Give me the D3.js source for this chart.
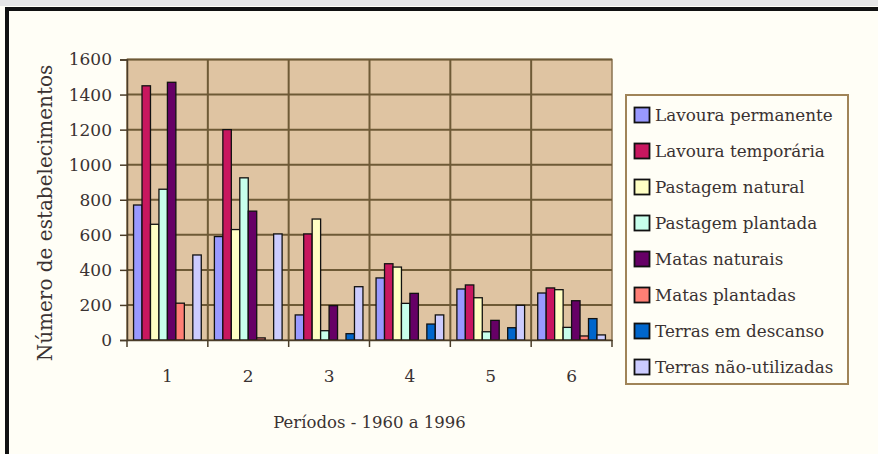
<!DOCTYPE html>
<html>
<head>
<meta charset="utf-8">
<script src="https://cdn.jsdelivr.net/npm/d3@7"></script>
<style>
	body { margin: 0; background: #fffef6; }
	text { font-family: "DejaVu Serif", serif; fill: #3a3232; }
</style>
</head>
<body>
<svg id="chart" width="878" height="454"></svg>
<script>
// categories (periods) and series
const periods = ["1", "2", "3", "4", "5", "6"];
const seriesNames = [
	"Lavoura permanente",
	"Lavoura temporária",
	"Pastagem natural",
	"Pastagem plantada",
	"Matas naturais",
	"Matas plantadas",
	"Terras em descanso",
	"Terras não-utilizadas",
];
const seriesColors = [
	"#9999ff", "#c8175f", "#ffffc4", "#c8ffec",
	"#660066", "#ff7f75", "#0066cc", "#ccccff",
];

// values per series, one per period
const lavouraPermanente = [770, 590, 143, 354, 291, 268];
const lavouraTemporaria = [1450, 1200, 605, 435, 314, 297];
const pastagemNatural = [660, 630, 690, 416, 241, 287];
const pastagemPlantada = [860, 925, 53, 209, 47, 72];
const matasNaturais = [1470, 735, 196, 266, 112, 224];
const matasPlantadas = [210, 12, 0, 0, 0, 23];
const terrasDescanso = [0, 0, 36, 91, 70, 122];
const terrasNaoUtilizadas = [485, 605, 304, 143, 198, 29];
const yTicks = [0, 200, 400, 600, 800, 1000, 1200, 1400, 1600];

const seriesValues = [
	lavouraPermanente, lavouraTemporaria, pastagemNatural, pastagemPlantada,
	matasNaturais, matasPlantadas, terrasDescanso, terrasNaoUtilizadas,
];

const svg = d3.select("#chart");

// outer frame (only top and left edges visible)
svg.append("rect").attr("x", 0).attr("y", 0).attr("width", 878).attr("height", 6)
	.attr("fill", "#e6e6e6");
svg.append("rect").attr("x", 5).attr("y", 7).attr("width", 873).attr("height", 4)
	.attr("fill", "#111");
svg.append("rect").attr("x", 5).attr("y", 7).attr("width", 4).attr("height", 447)
	.attr("fill", "#111");

const plot = { left: 127, right: 612, top: 59.5, bottom: 340 };

const x0 = d3.scaleBand()
	.domain(periods)
	.range([plot.left, plot.right])
	.paddingInner(0)
	.paddingOuter(0);

const bw = x0.bandwidth();
const groupPad = (bw * 1.55 / 9.55) / 2;
const x1 = d3.scaleBand()
	.domain(d3.range(seriesNames.length))
	.range([groupPad, bw - groupPad]);

const y = d3.scaleLinear().domain([0, 1600]).range([plot.bottom, plot.top]);

// plot background
svg.append("rect")
	.attr("x", plot.left)
	.attr("y", plot.top)
	.attr("width", plot.right - plot.left)
	.attr("height", plot.bottom - plot.top)
	.attr("fill", "#dfc4a2")
	.attr("stroke", "#8a7350")
	.attr("stroke-width", 1.5);

// horizontal gridlines
svg.append("g")
	.selectAll("line")
	.data(yTicks.slice(1))
	.join("line")
	.attr("x1", plot.left)
	.attr("x2", plot.right)
	.attr("y1", (d) => y(d))
	.attr("y2", (d) => y(d))
	.attr("stroke", "#6e5a36")
	.attr("stroke-width", 2);

// vertical gridlines at category boundaries
svg.append("g")
	.selectAll("line")
	.data(periods.slice(1))
	.join("line")
	.attr("x1", (d) => x0(d))
	.attr("x2", (d) => x0(d))
	.attr("y1", plot.top)
	.attr("y2", plot.bottom)
	.attr("stroke", "#6e5a36")
	.attr("stroke-width", 2);

// bars
const groups = svg.append("g")
	.selectAll("g")
	.data(periods)
	.join("g")
	.attr("transform", (d) => `translate(${x0(d)},0)`);

groups.selectAll("rect")
	.data((d, i) => seriesValues.map((vals, s) => ({ s: s, v: vals[i] })))
	.join("rect")
	.attr("x", (d) => x1(d.s))
	.attr("y", (d) => y(d.v))
	.attr("width", x1.bandwidth())
	.attr("height", (d) => y(0) - y(d.v))
	.attr("fill", (d) => seriesColors[d.s])
	.attr("stroke", "#111")
	.attr("stroke-width", 1.3);

// y axis
const yAxis = d3.axisLeft(y).tickValues(yTicks).tickFormat(d3.format("d"))
	.tickSize(7).tickPadding(8);
const yg = svg.append("g")
	.attr("transform", `translate(${plot.left},0)`)
	.call(yAxis);
yg.select(".domain").attr("stroke", "#4a3c28").attr("stroke-width", 1.5);
yg.selectAll(".tick line").attr("stroke", "#4a3c28").attr("stroke-width", 1.5);
yg.selectAll(".tick text")
	.style("font-family", "DejaVu Serif, serif")
	.style("font-size", "17px")
	.style("fill", "#3a3232");

// x axis
const xAxis = d3.axisBottom(x0).tickSize(0).tickPadding(30);
const xg = svg.append("g")
	.attr("transform", `translate(0,${plot.bottom})`)
	.call(xAxis);
xg.select(".domain").attr("stroke", "#4a3c28").attr("stroke-width", 1.5);
xg.selectAll(".tick text")
	.style("font-family", "DejaVu Serif, serif")
	.style("font-size", "17px")
	.style("fill", "#3a3232");

// x tick marks at category boundaries
svg.append("g")
	.selectAll("line")
	.data(periods.map((d) => x0(d)).concat([plot.right]))
	.join("line")
	.attr("x1", (d) => d)
	.attr("x2", (d) => d)
	.attr("y1", plot.bottom)
	.attr("y2", plot.bottom + 7)
	.attr("stroke", "#4a3c28")
	.attr("stroke-width", 1.5);

// axis titles
svg.append("text")
	.attr("x", (plot.left + plot.right) / 2)
	.attr("y", 428)
	.attr("text-anchor", "middle")
	.style("font-size", "16.5px")
	.text("Períodos - 1960 a 1996");

svg.append("text")
	.attr("transform", "translate(52,213) rotate(-90)")
	.attr("text-anchor", "middle")
	.style("font-size", "20px")
	.text("Número de estabelecimentos");

// legend
const legend = svg.append("g").attr("transform", "translate(626,95)");
legend.append("rect")
	.attr("width", 222)
	.attr("height", 289)
	.attr("fill", "#fffef6")
	.attr("stroke", "#a08458")
	.attr("stroke-width", 2);

const items = legend.selectAll("g.item")
	.data(seriesNames)
	.join("g")
	.attr("class", "item")
	.attr("transform", (d, i) => `translate(0,${20 + i * 36})`);

items.append("rect")
	.attr("x", 8.5)
	.attr("y", -7.5)
	.attr("width", 15)
	.attr("height", 15)
	.attr("fill", (d, i) => seriesColors[i])
	.attr("stroke", "#111")
	.attr("stroke-width", 1.8);

items.append("text")
	.attr("x", 29)
	.attr("y", 6)
	.style("font-size", "16.8px")
	.text((d) => d);
</script>
</body>
</html>
